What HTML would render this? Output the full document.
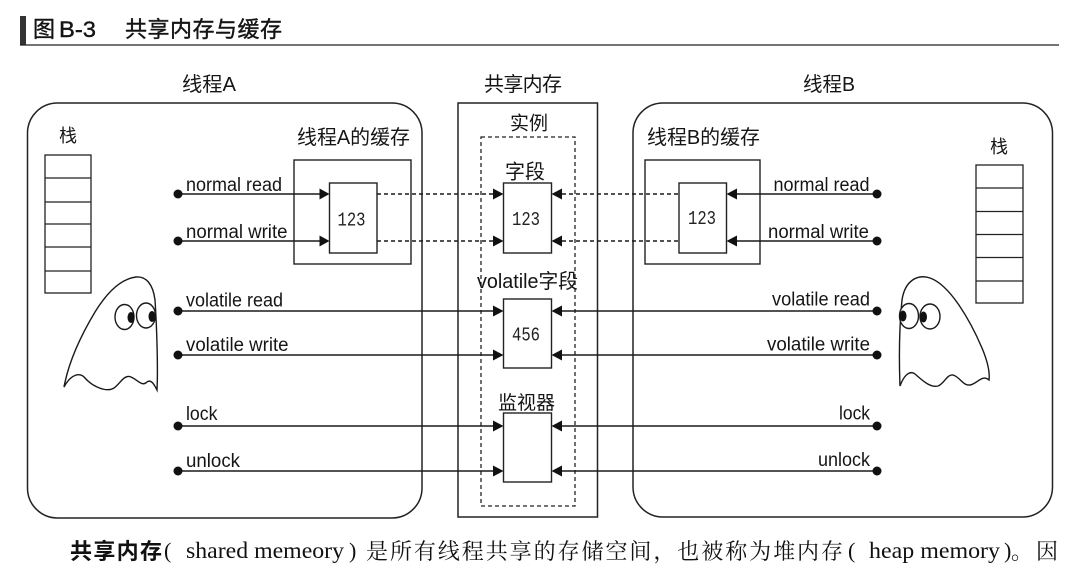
<!DOCTYPE html>
<html>
<head>
<meta charset="utf-8">
<style>
html,body{margin:0;padding:0;background:#fff;}
svg{display:block;}
.s{font-family:"Liberation Sans","Noto Sans CJK SC",sans-serif;fill:#151515;}
.m{font-family:"Liberation Mono","DejaVu Sans Mono",monospace;fill:#222;}
.f{font-family:"Liberation Serif","Noto Serif CJK SC",serif;fill:#111;}
</style>
</head>
<body>
<svg width="1080" height="569" viewBox="0 0 1080 569" xmlns="http://www.w3.org/2000/svg">
<rect x="0" y="0" width="1080" height="569" fill="#fff"/>

<!-- Title -->
<rect x="20" y="16" width="6" height="29" fill="#333"/>
<line x1="20" y1="45" x2="1059" y2="45" stroke="#222" stroke-width="1.3"/>
<text class="s" x="33" y="37" font-size="22" stroke="#111" stroke-width="0.4">图</text>
<text class="s" x="59" y="37" font-size="22" textLength="37" lengthAdjust="spacingAndGlyphs" stroke="#111" stroke-width="0.4">B-3</text>
<text class="s" x="125" y="37" font-size="22" textLength="157" lengthAdjust="spacing" stroke="#111" stroke-width="0.4">共享内存与缓存</text>

<!-- Column headers -->
<text class="s" x="182" y="91" font-size="20" textLength="54" lengthAdjust="spacingAndGlyphs">线程A</text>
<text class="s" x="484" y="91" font-size="20" textLength="78" lengthAdjust="spacing">共享内存</text>
<text class="s" x="803" y="91" font-size="20" textLength="52" lengthAdjust="spacingAndGlyphs">线程B</text>

<!-- Thread containers -->
<rect x="27.5" y="103" width="394.5" height="415" rx="30" ry="30" fill="none" stroke="#222" stroke-width="1.5"/>
<rect x="633" y="103" width="419.5" height="414" rx="30" ry="30" fill="none" stroke="#222" stroke-width="1.5"/>

<!-- Shared memory box -->
<rect x="458" y="103" width="139.5" height="414" fill="none" stroke="#222" stroke-width="1.5"/>
<text class="s" x="510" y="129.5" font-size="19" textLength="38" lengthAdjust="spacing">实例</text>
<rect x="481" y="137" width="94" height="369" fill="none" stroke="#222" stroke-width="1.3" stroke-dasharray="4 3"/>

<text class="s" x="505" y="178.5" font-size="20" textLength="40" lengthAdjust="spacing">字段</text>
<rect x="503.5" y="183" width="48" height="70" fill="#fff" stroke="#222" stroke-width="1.4"/>
<text class="m" x="512" y="225" font-size="19" textLength="28" lengthAdjust="spacingAndGlyphs">123</text>

<text class="s" x="477" y="288" font-size="20" textLength="101" lengthAdjust="spacingAndGlyphs">volatile字段</text>
<rect x="503.5" y="299" width="48" height="69" fill="#fff" stroke="#222" stroke-width="1.4"/>
<text class="m" x="512" y="340.5" font-size="19" textLength="28" lengthAdjust="spacingAndGlyphs">456</text>

<text class="s" x="498" y="409" font-size="19" textLength="57" lengthAdjust="spacing">监视器</text>
<rect x="503.5" y="413" width="48" height="69" fill="#fff" stroke="#222" stroke-width="1.4"/>

<!-- Thread A stack -->
<text class="s" x="59" y="142" font-size="18">栈</text>
<g fill="none" stroke="#222" stroke-width="1.3">
<rect x="45" y="155" width="46" height="138"/>
<line x1="45" y1="178" x2="91" y2="178"/>
<line x1="45" y1="202" x2="91" y2="202"/>
<line x1="45" y1="224" x2="91" y2="224"/>
<line x1="45" y1="247" x2="91" y2="247"/>
<line x1="45" y1="271" x2="91" y2="271"/>
</g>

<!-- Thread B stack -->
<text class="s" x="990" y="153" font-size="18">栈</text>
<g fill="none" stroke="#222" stroke-width="1.3">
<rect x="976" y="165" width="47" height="138"/>
<line x1="976" y1="188" x2="1023" y2="188"/>
<line x1="976" y1="211.5" x2="1023" y2="211.5"/>
<line x1="976" y1="234.5" x2="1023" y2="234.5"/>
<line x1="976" y1="257.5" x2="1023" y2="257.5"/>
<line x1="976" y1="281" x2="1023" y2="281"/>
</g>

<!-- Cache A -->
<text class="s" x="297" y="144" font-size="20" textLength="113" lengthAdjust="spacingAndGlyphs">线程A的缓存</text>
<rect x="294" y="160" width="117" height="104" fill="none" stroke="#222" stroke-width="1.4"/>
<rect x="329.5" y="183" width="47.5" height="70" fill="#fff" stroke="#222" stroke-width="1.4"/>
<text class="m" x="337.5" y="225.5" font-size="19" textLength="28" lengthAdjust="spacingAndGlyphs">123</text>

<!-- Cache B -->
<text class="s" x="647" y="144" font-size="20" textLength="113" lengthAdjust="spacingAndGlyphs">线程B的缓存</text>
<rect x="645" y="160" width="115" height="104" fill="none" stroke="#222" stroke-width="1.4"/>
<rect x="679" y="183" width="47.5" height="70" fill="#fff" stroke="#222" stroke-width="1.4"/>
<text class="m" x="688" y="224" font-size="19" textLength="28" lengthAdjust="spacingAndGlyphs">123</text>

<!-- Connectors: left -->
<g stroke="#1a1a1a" stroke-width="1.4" fill="none">
<line x1="178" y1="194" x2="320" y2="194"/>
<line x1="178" y1="241" x2="320" y2="241"/>
<line x1="377" y1="194" x2="494" y2="194" stroke-dasharray="4 3"/>
<line x1="377" y1="241" x2="494" y2="241" stroke-dasharray="4 3"/>
<line x1="178" y1="311" x2="494" y2="311"/>
<line x1="178" y1="355" x2="494" y2="355"/>
<line x1="178" y1="426" x2="494" y2="426"/>
<line x1="178" y1="471" x2="494" y2="471"/>
<!-- right -->
<line x1="737" y1="194" x2="877" y2="194"/>
<line x1="737" y1="241" x2="877" y2="241"/>
<line x1="562" y1="194" x2="679" y2="194" stroke-dasharray="4 3"/>
<line x1="562" y1="241" x2="679" y2="241" stroke-dasharray="4 3"/>
<line x1="562" y1="311" x2="877" y2="311"/>
<line x1="562" y1="355" x2="877" y2="355"/>
<line x1="562" y1="426" x2="877" y2="426"/>
<line x1="562" y1="471" x2="877" y2="471"/>
</g>

<!-- Arrowheads -->
<g fill="#111">
<polygon points="319.5,188.5 329.5,194 319.5,199.5"/>
<polygon points="319.5,235.5 329.5,241 319.5,246.5"/>
<polygon points="493,188.5 503.5,194 493,199.5"/>
<polygon points="493,235.5 503.5,241 493,246.5"/>
<polygon points="493,305.5 503.5,311 493,316.5"/>
<polygon points="493,349.5 503.5,355 493,360.5"/>
<polygon points="493,420.5 503.5,426 493,431.5"/>
<polygon points="493,465.5 503.5,471 493,476.5"/>

<polygon points="737,188.5 726.5,194 737,199.5"/>
<polygon points="737,235.5 726.5,241 737,246.5"/>
<polygon points="562,188.5 551.5,194 562,199.5"/>
<polygon points="562,235.5 551.5,241 562,246.5"/>
<polygon points="562,305.5 551.5,311 562,316.5"/>
<polygon points="562,349.5 551.5,355 562,360.5"/>
<polygon points="562,420.5 551.5,426 562,431.5"/>
<polygon points="562,465.5 551.5,471 562,476.5"/>
</g>

<!-- Dots -->
<g fill="#111">
<circle cx="178" cy="194" r="4.5"/>
<circle cx="178" cy="241" r="4.5"/>
<circle cx="178" cy="311" r="4.5"/>
<circle cx="178" cy="355" r="4.5"/>
<circle cx="178" cy="426" r="4.5"/>
<circle cx="178" cy="471" r="4.5"/>
<circle cx="877" cy="194" r="4.5"/>
<circle cx="877" cy="241" r="4.5"/>
<circle cx="877" cy="311" r="4.5"/>
<circle cx="877" cy="355" r="4.5"/>
<circle cx="877" cy="426" r="4.5"/>
<circle cx="877" cy="471" r="4.5"/>
</g>

<!-- Connector labels left -->
<text class="s" x="186" y="191" font-size="19" textLength="96" lengthAdjust="spacingAndGlyphs">normal read</text>
<text class="s" x="186" y="238" font-size="19" textLength="101.5" lengthAdjust="spacingAndGlyphs">normal write</text>
<text class="s" x="186" y="306.5" font-size="19" textLength="97" lengthAdjust="spacingAndGlyphs">volatile read</text>
<text class="s" x="186" y="351" font-size="19" textLength="102.5" lengthAdjust="spacingAndGlyphs">volatile write</text>
<text class="s" x="186" y="420" font-size="19" textLength="31.5" lengthAdjust="spacingAndGlyphs">lock</text>
<text class="s" x="186" y="467" font-size="19" textLength="54" lengthAdjust="spacingAndGlyphs">unlock</text>

<!-- Connector labels right -->
<text class="s" x="773.5" y="191" font-size="19" textLength="96" lengthAdjust="spacingAndGlyphs">normal read</text>
<text class="s" x="768" y="238" font-size="19" textLength="101" lengthAdjust="spacingAndGlyphs">normal write</text>
<text class="s" x="772" y="305.5" font-size="19" textLength="98" lengthAdjust="spacingAndGlyphs">volatile read</text>
<text class="s" x="767" y="350.5" font-size="19" textLength="103" lengthAdjust="spacingAndGlyphs">volatile write</text>
<text class="s" x="839" y="419.5" font-size="19" textLength="31" lengthAdjust="spacingAndGlyphs">lock</text>
<text class="s" x="818" y="466" font-size="19" textLength="52" lengthAdjust="spacingAndGlyphs">unlock</text>

<!-- Ghost A -->
<path d="M 64 387 C 71 374, 80 372, 85 378 C 92 386, 106 393, 114 388 C 120 384, 124 374, 131 377 C 138 380, 142 387, 147 382 C 151 379, 154 384, 157 390 C 158 370, 157 330, 155 300 C 153 284, 146 276, 136 277 C 120 279, 106 294, 95 312 C 83 332, 69 360, 64 387 Z" fill="#fff" stroke="#1a1a1a" stroke-width="1.4"/>
<ellipse cx="124.5" cy="317" rx="9.5" ry="12.5" fill="#fff" stroke="#1a1a1a" stroke-width="1.4"/>
<ellipse cx="146" cy="315.5" rx="9.5" ry="12.5" fill="#fff" stroke="#1a1a1a" stroke-width="1.4"/>
<ellipse cx="131" cy="317.5" rx="3.5" ry="5.5" fill="#111"/>
<ellipse cx="152" cy="316.5" rx="3.5" ry="5.5" fill="#111"/>

<!-- Ghost B -->
<path d="M 900 386 C 904 375, 910 370, 915 374 C 922 380, 930 388, 938 386 C 944 384, 947 374, 953 375 C 960 377, 963 386, 970 385 C 977 384, 982 374, 989 380 C 990 372, 987 360, 982 348 C 970 320, 950 285, 930 278 C 918 274, 905 280, 902 300 C 899 330, 899 360, 900 386 Z" fill="#fff" stroke="#1a1a1a" stroke-width="1.4"/>
<ellipse cx="909" cy="316" rx="9.5" ry="12.5" fill="#fff" stroke="#1a1a1a" stroke-width="1.4"/>
<ellipse cx="930" cy="316.5" rx="10" ry="12.5" fill="#fff" stroke="#1a1a1a" stroke-width="1.4"/>
<ellipse cx="903" cy="316" rx="3.5" ry="5.5" fill="#111"/>
<ellipse cx="923.5" cy="317" rx="3.5" ry="5.5" fill="#111"/>

<!-- Bottom paragraph -->
<text x="70" y="559" font-size="22" font-weight="bold" textLength="92" lengthAdjust="spacing" style="font-family:'Liberation Sans','Noto Sans CJK SC',sans-serif;fill:#111;">共享内存</text>
<text class="f" x="164" y="558" font-size="22">(</text>
<text class="f" x="186" y="558" font-size="23" textLength="158" lengthAdjust="spacingAndGlyphs">shared memeory</text>
<text class="f" x="349" y="558" font-size="22">)</text>
<text class="f" x="366" y="559" font-size="22" textLength="477" lengthAdjust="spacing">是所有线程共享的存储空间，也被称为堆内存</text>
<text class="f" x="848" y="558" font-size="22">(</text>
<text class="f" x="869" y="558" font-size="23" textLength="131" lengthAdjust="spacingAndGlyphs">heap memory</text>
<text class="f" x="1004" y="558" font-size="22">)</text>
<text class="f" x="1011" y="559" font-size="22">。</text>
<text class="f" x="1036" y="559" font-size="22">因</text>
</svg>
</body>
</html>
